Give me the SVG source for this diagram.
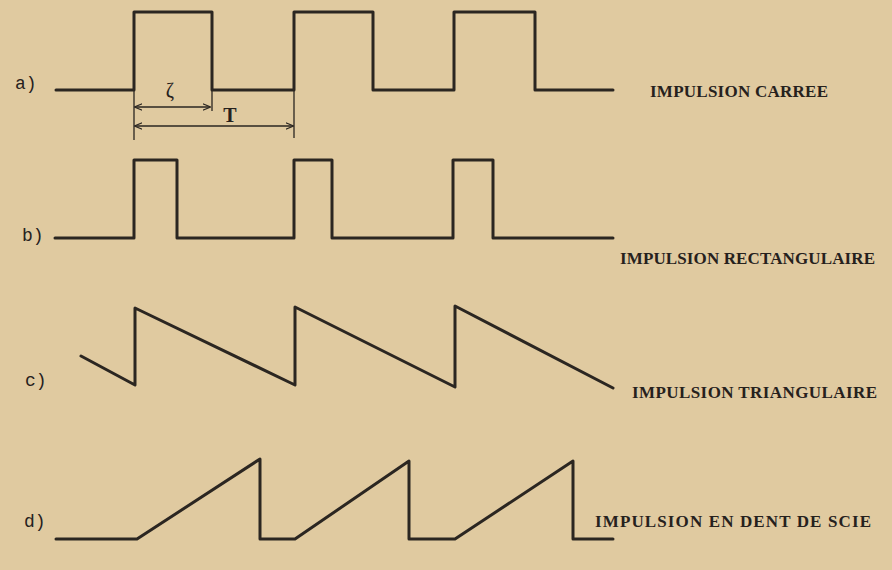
<svg xmlns="http://www.w3.org/2000/svg" width="892" height="570" viewBox="0 0 892 570">
<style>
.w{fill:none;stroke:#2b2621;stroke-width:3;stroke-linejoin:round;stroke-linecap:round}
.d{fill:none;stroke:#2b2621;stroke-width:1.3}
.t{font-family:"Liberation Serif","Times New Roman",serif;font-weight:600;font-size:17px;fill:#26211d}
.l{font-family:"Liberation Mono","Courier New",monospace;font-size:18px;fill:#26211d}
.s{font-family:"Liberation Serif",serif;font-size:20px;fill:#26211d;text-anchor:middle}
</style>
<defs>
<marker id="ar" viewBox="0 0 10 10" refX="9" refY="5" markerWidth="8" markerHeight="8" markerUnits="userSpaceOnUse" orient="auto-start-reverse">
<path d="M0,1 L10,5 L0,9" fill="none" stroke="#2b2621" stroke-width="1.6"/>
</marker>
</defs>
<rect width="892" height="570" fill="#e0caa0"/>
<g id="wave-a">
<path class="w" d="M56,90 H134 V12 H212 V90 H294 V12 H373 V90 H454 V12 H535 V90 H613"/>
<text class="l" x="15" y="89">a)</text>
<text class="t" x="650" y="97" textLength="178" lengthAdjust="spacing">IMPULSION CARREE</text>
</g>
<g id="dimensions">
<path class="d" d="M134,90 V140 M212,90 V111 M294,90 V138"/>
<line class="d" x1="135" y1="107" x2="210" y2="107" marker-start="url(#ar)" marker-end="url(#ar)"/>
<line class="d" x1="135" y1="126" x2="293" y2="126" marker-start="url(#ar)" marker-end="url(#ar)"/>
<text class="s" x="170" y="97">ζ</text>
<text class="s" x="230" y="122" font-weight="bold">T</text>
</g>
<g id="wave-b">
<path class="w" d="M55,238 H134 V160 H177 V238 H294 V160 H332 V238 H453 V160 H493 V238 H613"/>
<text class="l" x="22" y="241">b)</text>
<text class="t" x="620" y="264" textLength="255" lengthAdjust="spacing">IMPULSION RECTANGULAIRE</text>
</g>
<g id="wave-c">
<path class="w" d="M81,356 L135,385 V308 L295,385 V307 L455,387 V306 L613,388"/>
<text class="l" x="25" y="386">c)</text>
<text class="t" x="632" y="398" textLength="245" lengthAdjust="spacing">IMPULSION TRIANGULAIRE</text>
</g>
<g id="wave-d">
<path class="w" d="M56,539 H137 L260,459 V539 H295 L409,461 V539 H455 L573,461 V539 H613"/>
<text class="l" x="24" y="527">d)</text>
<text class="t" x="595" y="527" textLength="276" lengthAdjust="spacing">IMPULSION EN DENT DE SCIE</text>
</g>
</svg>
